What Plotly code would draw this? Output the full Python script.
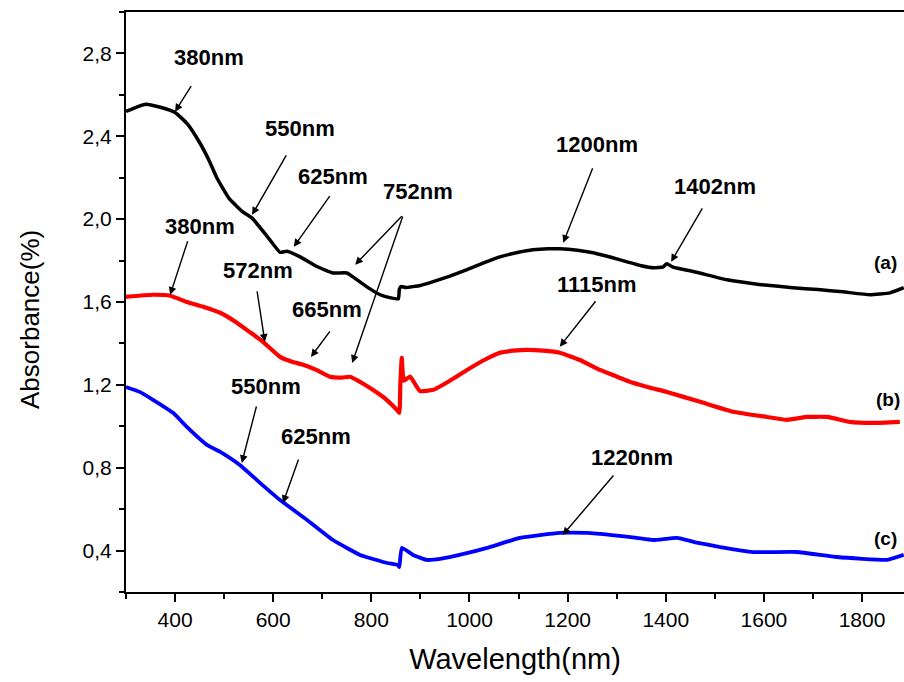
import plotly.graph_objects as go

# ---------------- data ----------------
wl_a = [300, 340, 370, 400, 425, 450, 470, 485, 510, 538, 557, 590, 614, 628, 655, 690, 722, 750,
        771, 791, 818, 840, 855, 857, 860, 870, 900, 926, 960, 995, 1030, 1062, 1100, 1129, 1160,
        1184, 1220, 1252, 1290, 1321, 1350, 1375, 1395, 1402, 1415, 1460, 1525, 1590, 1659, 1710,
        1761, 1816, 1857, 1885]
abs_a = [2.52, 2.555, 2.54, 2.515, 2.46, 2.37, 2.28, 2.20, 2.10, 2.035, 2.005, 1.91, 1.84, 1.845,
         1.818, 1.77, 1.74, 1.74, 1.707, 1.673, 1.635, 1.62, 1.615, 1.66, 1.675, 1.67, 1.68, 1.698,
         1.725, 1.756, 1.79, 1.818, 1.84, 1.852, 1.857, 1.857, 1.85, 1.838, 1.815, 1.794, 1.775,
         1.765, 1.77, 1.785, 1.768, 1.745, 1.707, 1.685, 1.669, 1.66, 1.649, 1.635, 1.644, 1.669]

wl_b = [300, 355, 390, 424, 460, 492, 526, 555, 579, 614, 640, 661, 690, 716, 740, 757, 780, 803,
        830, 852, 857, 859, 862, 866, 879, 899, 926, 960, 995, 1030, 1062, 1090, 1117, 1150, 1184,
        1225, 1266, 1300, 1333, 1370, 1402, 1470, 1537, 1606, 1647, 1688, 1729, 1775, 1822, 1877]
abs_b = [1.625, 1.635, 1.63, 1.60, 1.575, 1.548, 1.50, 1.45, 1.408, 1.335, 1.31, 1.297, 1.27,
         1.239, 1.235, 1.239, 1.21, 1.176, 1.13, 1.079, 1.065, 1.20, 1.33, 1.22, 1.24, 1.17, 1.176,
         1.22, 1.272, 1.32, 1.355, 1.365, 1.369, 1.365, 1.355, 1.32, 1.272, 1.24, 1.21, 1.185,
         1.166, 1.118, 1.07, 1.045, 1.031, 1.045, 1.045, 1.021, 1.016, 1.021]

wl_c = [300, 328, 355, 396, 424, 465, 492, 532, 573, 614, 669, 722, 777, 832, 854, 857, 862, 885,
        913, 940, 990, 1036, 1103, 1184, 1239, 1290, 1341, 1374, 1423, 1460, 1511, 1578, 1667,
        1749, 1851, 1885]
abs_c = [1.19, 1.166, 1.128, 1.065, 0.997, 0.91, 0.876, 0.813, 0.727, 0.644, 0.548, 0.451, 0.379,
         0.34, 0.33, 0.32, 0.413, 0.379, 0.355, 0.36, 0.385, 0.413, 0.461, 0.485, 0.485, 0.475,
         0.461, 0.451, 0.461, 0.44, 0.417, 0.393, 0.393, 0.369, 0.355, 0.379]

# peak labels: (text, text_x, text_y)
peak_labels = [
    ("380nm", 469, 2.78), ("550nm", 655, 2.44), ("625nm", 722, 2.205), ("752nm", 895, 2.132),
    ("1200nm", 1260, 2.36), ("1402nm", 1500, 2.156),
    ("380nm", 451, 1.963), ("572nm", 569, 1.751), ("665nm", 710, 1.562), ("1115nm", 1260, 1.683),
    ("550nm", 585, 1.19), ("625nm", 687, 0.949), ("1220nm", 1331, 0.847),
]
# arrows: (tip_x, tip_y, tail offset px dx, dy)
arrows = [
    (400, 2.519, 17, -27), (557, 2.021, 35, -61), (642, 1.867, 37, -52),
    (767, 1.78, 48, -50), (761, 1.306, 51, -148),
    (1191, 1.886, 30, -76), (1411, 1.794, 32, -55),
    (390, 1.635, 18, -55), (583, 1.408, -8, -52), (677, 1.335, 20, -27), (1184, 1.384, 37, -47),
    (536, 0.823, 15, -58), (620, 0.63, 16, -45), (1190, 0.475, 52, -61),
]
curve_labels = [("(a)", 1847, 1.789), ("(b)", 1853, 1.128), ("(c)", 1847, 0.46)]

FONT = "Liberation Sans, Arial, sans-serif"

fig = go.Figure()
for xs, ys, col, w in [(wl_a, abs_a, "black", 3.5), (wl_b, abs_b, "#ff0000", 4.2), (wl_c, abs_c, "#0000ff", 3.8)]:
    fig.add_trace(go.Scatter(x=xs, y=ys, mode="lines", line=dict(color=col, width=w, shape="spline", smoothing=0.4),
                             showlegend=False, hoverinfo="skip"))

anns = []
for t, x, y in peak_labels:
    anns.append(dict(x=x, y=y, text=t, showarrow=False, xref="x", yref="y",
                     font=dict(family=FONT, size=22, color="black", weight=700)))
for x, y, dx, dy in arrows:
    anns.append(dict(x=x, y=y, text="", showarrow=True, ax=dx, ay=dy, xref="x", yref="y",
                     arrowhead=2, arrowsize=1.1, arrowwidth=1.4, arrowcolor="black", standoff=0, startstandoff=0))
for t, x, y in curve_labels:
    anns.append(dict(x=x, y=y, text=t, showarrow=False, xref="x", yref="y",
                     font=dict(family=FONT, size=19, color="black", weight=700)))
# y-axis title as annotation for exact placement
anns.append(dict(x=-96 / 778, y=272 / 580, xref="paper", yref="paper", text="Absorbance(%)",
                 textangle=-90, showarrow=False, xanchor="center", yanchor="middle",
                 font=dict(family=FONT, size=26, color="black")))

fig.update_layout(
    width=904, height=682,
    margin=dict(l=126, r=0, t=12, b=90),
    paper_bgcolor="white", plot_bgcolor="white",
    separators=", ",
    font=dict(family=FONT, color="black"),
    annotations=anns,
)
fig.update_xaxes(range=[300, 1885.5], showgrid=False, zeroline=False,
                 showline=True, linecolor="black", linewidth=2, mirror=True,
                 ticks="outside", ticklen=8, tickwidth=2, tickcolor="black",
                 tick0=400, dtick=200, tickfont=dict(size=21, family=FONT),
                 minor=dict(ticks="outside", ticklen=5, tickwidth=2, tickcolor="black", dtick=100, tick0=300),
                 title=dict(text="Wavelength(nm)", font=dict(size=29, family=FONT), standoff=18))
fig.update_yaxes(range=[0.2, 3.0], showgrid=False, zeroline=False,
                 showline=True, linecolor="black", linewidth=2, mirror=False,
                 ticks="outside", ticklen=8, tickwidth=2, tickcolor="black",
                 tick0=0.4, dtick=0.4, tickformat=".1f", tickfont=dict(size=21, family=FONT),
                 minor=dict(ticks="outside", ticklen=5, tickwidth=2, tickcolor="black", dtick=0.2, tick0=0.2))

fig.write_html("out.html")
